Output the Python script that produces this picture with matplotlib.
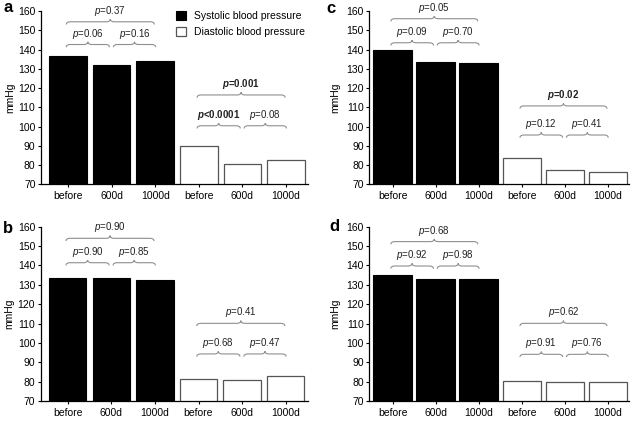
import matplotlib
matplotlib.use('Agg')
import matplotlib.pyplot as plt
from matplotlib.patches import Patch, PathPatch
from matplotlib.path import Path

plt.rcParams['font.family'] = ['Liberation Sans', 'DejaVu Sans']
plt.rcParams['mathtext.fontset'] = 'custom'
plt.rcParams['mathtext.rm'] = 'Liberation Sans'
plt.rcParams['mathtext.it'] = 'Liberation Sans:italic'
plt.rcParams['mathtext.bf'] = 'Liberation Sans:bold'
plt.rcParams['mathtext.bfit'] = 'Liberation Sans:italic:bold'

# ---------------- data ----------------
categories = ['before', '600d', '1000d']
series_names = ['Systolic blood pressure', 'Diastolic blood pressure']

systolic_a = [136.8, 131.9, 133.8]
diastolic_a = [90.0, 80.5, 82.6]
systolic_b = [133.7, 133.7, 132.5]
diastolic_b = [81.2, 80.8, 83.0]
systolic_c = [139.6, 133.6, 133.1]
diastolic_c = [83.4, 77.4, 76.6]
systolic_d = [134.9, 133.1, 133.1]
diastolic_d = [80.1, 79.6, 79.6]

# p-values: [before vs 600d, 600d vs 1000d, before vs 1000d]
p_sys_a = ['=0.06', '=0.16', '=0.37']
p_dia_a = ['<0.0001', '=0.08', '=0.001']
p_sys_b = ['=0.90', '=0.85', '=0.90']
p_dia_b = ['=0.68', '=0.47', '=0.41']
p_sys_c = ['=0.09', '=0.70', '=0.05']
p_dia_c = ['=0.12', '=0.41', '=0.02']
p_sys_d = ['=0.92', '=0.98', '=0.68']
p_dia_d = ['=0.91', '=0.76', '=0.62']

y_ticks = [70, 80, 90, 100, 110, 120, 130, 140, 150, 160]

# ---------------- layout ----------------
W, H = 634, 421
fig = plt.figure(figsize=(W / 100, H / 100), dpi=100)

BRACKET_COLOR = '#8f8f8f'
TEXT_COLOR = '#222222'
DIA_EDGE = '#555555'


def px_axes(left, right, top, bottom):
    return fig.add_axes([left / W, 1 - bottom / H, (right - left) / W, (bottom - top) / H])


def brace(ax, x0, x1, y, h=1.4, e=0.09):
    xm = (x0 + x1) / 2
    verts = [(x0, y - h), (x0, y), (x0 + e, y),
             (xm - e, y), (xm, y), (xm, y + h),
             (xm, y), (xm + e, y),
             (x1 - e, y), (x1, y), (x1, y - h)]
    codes = [Path.MOVETO, Path.CURVE3, Path.CURVE3,
             Path.LINETO, Path.CURVE3, Path.CURVE3,
             Path.CURVE3, Path.CURVE3,
             Path.LINETO, Path.CURVE3, Path.CURVE3]
    ax.add_patch(PathPatch(Path(verts, codes), fill=False, edgecolor=BRACKET_COLOR,
                           lw=0.8, clip_on=False))


def is_sig(p):
    return float(p[1:]) < 0.05


def ptext(ax, x, y, p):
    if is_sig(p):
        s = r'$\mathbfit{p}$' + p
        ax.text(x, y, s, ha='center', va='center', fontsize=7, fontweight='bold',
                color=TEXT_COLOR, clip_on=False)
    else:
        s = r'$\it{p}$' + p
        ax.text(x, y, s, ha='center', va='center', fontsize=7, color=TEXT_COLOR,
                clip_on=False)


def annotate_group(ax, xs, pv, low, up, toff=5.6):
    x0, x1, x2 = xs
    a0, a1 = x0 - 0.04, x1 - 0.05
    b0, b1 = x1 + 0.04, x2 + 0.01
    brace(ax, a0, a1, low)
    brace(ax, b0, b1, low)
    ptext(ax, (a0 + a1) / 2, low + toff, pv[0])
    ptext(ax, (b0 + b1) / 2, low + toff, pv[1])
    c0, c1 = x0 - 0.04, x2 - 0.02
    brace(ax, c0, c1, up)
    ptext(ax, (c0 + c1) / 2, up + toff, pv[2])


panels = [
    # letter, sys, dia, psys, pdia, (left, right, top, bottom), xleft, width, levels, letter pos, ylabel pos
    ('a', systolic_a, diastolic_a, p_sys_a, p_dia_a, (41.0, 307.8, 11.0, 184.3), -0.62, 0.86,
     (142.6, 154.4, 100.4, 116.4), (8, 8), (10.5, 97.5)),
    ('c', systolic_c, diastolic_c, p_sys_c, p_dia_c, (369.3, 629.3, 11.0, 184.3), -0.54, 0.89,
     (143.5, 156.0, 95.6, 110.7), (331, 8.5), (335, 97.5)),
    ('b', systolic_b, diastolic_b, p_sys_b, p_dia_b, (40.7, 307.5, 226.7, 401.0), -0.62, 0.86,
     (141.4, 154.0, 94.3, 110.1), (8, 228.5), (9, 314)),
    ('d', systolic_d, diastolic_d, p_sys_d, p_dia_d, (369.3, 629.3, 226.7, 401.0), -0.54, 0.89,
     (139.7, 152.3, 94.1, 110.1), (334.5, 226.5), (335, 314)),
]

for (letter, sysv, diav, psys, pdia, box, xleft, bw, lev, lpos, ypos) in panels:
    ax = px_axes(*box)
    n = len(categories)
    xs_sys = list(range(n))
    xs_dia = [n + i for i in range(n)]
    ax.bar(xs_sys, sysv, width=bw, bottom=0, color='black', edgecolor='black', lw=0.8,
           label=series_names[0])
    ax.bar(xs_dia, diav, width=bw, color='white', edgecolor=DIA_EDGE, lw=0.9,
           label=series_names[1])
    ax.set_ylim(70, 160)
    ax.set_xlim(xleft, 5.5)
    ax.set_yticks(y_ticks)
    ax.set_xticks(xs_sys + xs_dia)
    ax.set_xticklabels(categories + categories)
    for s in ['top', 'right']:
        ax.spines[s].set_visible(False)
    for s in ['left', 'bottom']:
        ax.spines[s].set_linewidth(0.9)
    ax.tick_params(axis='y', direction='out', length=2.5, width=0.8, labelsize=7.5, pad=1.5)
    ax.tick_params(axis='x', direction='out', length=2.0, width=0.8, labelsize=7.5, pad=3.0)
    annotate_group(ax, xs_sys, psys, lev[0], lev[1])
    annotate_group(ax, xs_dia, pdia, lev[2], lev[3])
    fig.text(lpos[0] / W, 1 - lpos[1] / H, letter, fontsize=12, fontweight='bold',
             ha='center', va='center')
    fig.text(ypos[0] / W, 1 - ypos[1] / H, 'mmHg', fontsize=7.5, rotation=90,
             ha='center', va='center')
    if letter == 'a':
        handles, labels = ax.get_legend_handles_labels()
        ax.legend(handles, labels, loc='upper left', bbox_to_anchor=(176 / W, 1 - 11 / H),
                  bbox_transform=fig.transFigure, frameon=False, fontsize=7.5,
                  handlelength=0.95, handleheight=0.95, handletextpad=0.75,
                  labelspacing=0.55, borderpad=0, borderaxespad=0)

fig.savefig('out.png', dpi=100)
